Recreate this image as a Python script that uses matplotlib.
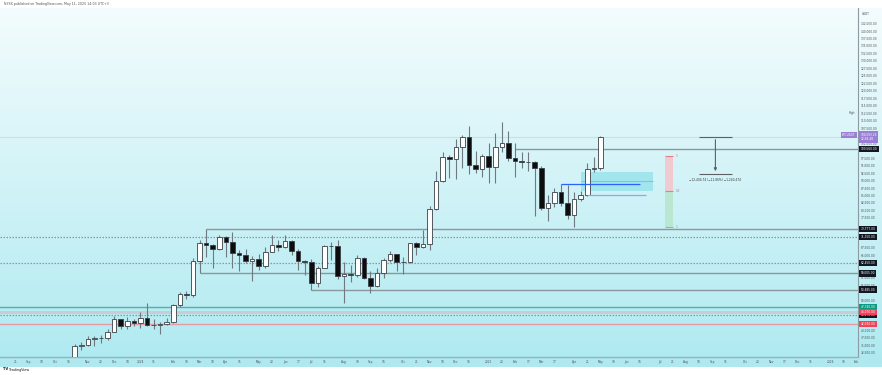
import matplotlib.pyplot as plt
import numpy as np
import pandas as pd
from matplotlib.patches import Rectangle

# weekly BTCUSDT candles, first bar = week of 2023-10-23
start = pd.Timestamp('2023-10-23')
opens = [29990, 34530, 35010, 37060, 37360, 37450, 39460, 43780, 41370, 42990,
         42280, 43950, 41730, 41580, 42030, 42580, 48300, 52140, 51730, 63110,
         68960, 68390, 67210, 71280, 69360, 65660, 64940, 63120, 63900, 61480,
         66270, 68510, 67760, 69650, 66490, 63210, 62680, 55850, 60800, 68250,
         68260, 58110, 58710, 58430, 64220, 57300, 54870, 59130, 63580, 65600,
         62820, 62850, 69000, 67940, 68740, 80400, 89850, 97900, 97190, 101110,
         104460, 95180, 93720, 98320, 94500, 101330, 102620, 97700, 96460, 96120,
         96260, 94270, 80730, 82580, 86080, 82390, 78370, 83760, 85170, 93750,
         94280]
highs = [35280, 35990, 38000, 37980, 38420, 40250, 44700, 43800, 44300, 43800,
         45900, 49050, 43580, 42840, 43880, 48590, 52820, 52990, 64000, 69990,
         73777, 68920, 71770, 71300, 72800, 66900, 67230, 64700, 65500, 67700,
         71950, 70000, 71950, 70200, 67200, 63370, 63780, 61300, 68350, 69400,
         70080, 62750, 61800, 65000, 64520, 59800, 60600, 64130, 66500, 65600,
         64480, 69000, 69500, 73620, 81500, 93270, 99600, 98700, 103900, 105250,
         108350, 99960, 99000, 102700, 106000, 109600, 106500, 102500, 99500, 99480,
         96500, 95000, 85300, 87470, 88770, 88500, 86100, 86500, 95750, 97900,
         104900]
lows = [29880, 33390, 34520, 34800, 35630, 36700, 39460, 40200, 40500, 41300,
        40750, 41500, 40280, 38550, 41800, 42250, 47700, 50520, 50900, 59005,
        64530, 60760, 66800, 64490, 60660, 59600, 62400, 56550, 60200, 60800,
        66000, 66600, 67600, 65080, 60000, 58400, 53485, 54250, 60600, 63450,
        57100, 49000, 56100, 57800, 57200, 52550, 54570, 57500, 62700, 59830,
        58900, 62450, 65060, 67450, 66800, 80200, 89380, 90790, 90500, 94150,
        92200, 92520, 91350, 89250, 89250, 99500, 96450, 91230, 94100, 93300,
        78250, 80000, 76600, 81200, 81570, 77150, 74500, 83000, 85000, 92800,
        93380]
closes = [34530, 35010, 37060, 37360, 37450, 39460, 43780, 41370, 42990, 42280,
          43950, 41730, 41580, 42030, 42580, 48300, 52140, 51730, 63110, 68960,
          68390, 67210, 71280, 69360, 65660, 64940, 63120, 63900, 61480, 66270,
          68510, 67760, 69650, 66490, 63210, 62680, 55850, 60800, 68250, 68260,
          58110, 58710, 58430, 64220, 57300, 54870, 59130, 63580, 65600, 62820,
          62850, 69000, 67940, 68740, 80400, 89850, 97900, 97190, 101110, 104460,
          95180, 93720, 98320, 94500, 101330, 102620, 97700, 96460, 96120, 96260,
          94270, 80730, 82580, 86080, 82390, 78370, 83760, 85170, 93750, 94280,
          104593.26]

tick_dates = ['2023-08-21', '2023-09-04', '2023-09-18', '2023-10-02', '2023-10-16',
              '2023-11-06', '2023-11-20', '2023-12-04', '2023-12-18', '2024-01-01',
              '2024-01-15', '2024-02-05', '2024-02-19', '2024-03-04', '2024-03-18',
              '2024-04-01', '2024-04-15', '2024-05-06', '2024-05-20', '2024-06-03',
              '2024-06-17', '2024-07-01', '2024-07-15', '2024-08-05', '2024-08-19',
              '2024-09-02', '2024-09-16', '2024-10-07', '2024-10-21', '2024-11-04',
              '2024-11-18', '2024-12-02', '2024-12-16', '2025-01-06', '2025-01-20',
              '2025-02-03', '2025-02-17', '2025-03-03', '2025-03-17', '2025-04-07',
              '2025-04-21', '2025-05-05', '2025-05-19', '2025-06-02', '2025-06-16',
              '2025-07-07', '2025-07-21', '2025-08-04', '2025-08-18', '2025-09-01',
              '2025-09-15', '2025-10-06', '2025-10-20', '2025-11-03', '2025-11-17',
              '2025-12-01', '2025-12-15', '2026-01-05', '2026-01-19', '2026-02-02']
tick_names = ['21', 'Sep', '18', 'Oct', '16', 'Nov', '20', 'Dec', '18', '2024',
              '15', 'Feb', '19', 'Mar', '18', 'Apr', '15', 'May', '20', 'Jun',
              '17', 'Jul', '15', 'Aug', '19', 'Sep', '16', 'Oct', '21', 'Nov',
              '18', 'Dec', '16', '2025', '20', 'Feb', '17', 'Mar', '17', 'Apr',
              '21', 'May', '19', 'Jun', '16', 'Jul', '21', 'Aug', '18', 'Sep',
              '15', 'Oct', '20', 'Nov', '17', 'Dec', '15', '2026', '19', 'Feb']

# horizontal rays starting at a candle
ray_prices = [100560, 73777, 59005, 53485]
ray_starts = ['2025-02-03', '2024-03-11', '2024-03-04', '2024-07-01']
# full width lines
dotted_prices = [71150, 62450, 45070]
teal_price = 47740
band_price = 46070
pink_price = 42060

# drawings on the right
blue_price, blue_from, blue_to = 88770, '2025-03-24', '2025-06-16'
lblue_price, lblue_from, lblue_to = 85170, '2025-04-21', '2025-06-23'
zone_top, zone_bot, zone_from, zone_to = 92870, 86520, '2025-04-14', '2025-06-30'
fib_top, fib_bot, fib_from, fib_to = 98200, 74500, '2025-07-14', '2025-07-21'
meas_top, meas_bot = 104593.26, 92188.52
meas_from, meas_to = '2025-08-18', '2025-09-22'
meas_text = '\u221212,404.74 (\u221211.86%) \u22121,240,474'

FS = 2.1  # the screenshot text is tiny


def wk(d):
    return (pd.Timestamp(d) - start).days / 7


def money(v):
    return '{:,.2f}'.format(v)


fig = plt.figure(figsize=(8.82, 3.75), dpi=100)
fig.patch.set_facecolor('white')

# gradient background behind the chart and price scale
bg = fig.add_axes([0, 18 / 375, 1, 349 / 375], zorder=0)
t = np.linspace(0, 1, 256)[:, None, None]
top = np.array([0.955, 0.988, 0.993])
bot = np.array([0.69, 0.918, 0.945])
grad = top + (bot - top) * t
bg.imshow(grad, aspect='auto', extent=[0, 1, 0, 1])
bg.axis('off')
fig.add_artist(Rectangle((0, 8 / 375), 1, 10 / 375, transform=fig.transFigure,
                         facecolor='#b0e8ef', edgecolor='none', zorder=0))

ax = fig.add_axes([0, 18 / 375, 858 / 882, 349 / 375], zorder=1)
ax.set_facecolor('none')
ax.set_xlim(-11.37, 119.2)
ax.set_ylim(31000, 147700)

x = np.arange(len(closes))
o = np.array(opens)
c = np.array(closes)
up = c >= o
ax.vlines(x, lows, highs, color='#6f7a80', lw=0.8, zorder=3)
ax.bar(x, np.abs(c - o), bottom=np.minimum(o, c), width=0.7,
       color=np.where(up, 'white', '#0d0d0d'), edgecolor='#3a3f45', lw=0.6, zorder=4)

# levels
for p, s in zip(ray_prices, ray_starts):
    ax.hlines(p, wk(s), 119.2, color='#8c979c', lw=1.0, zorder=2)
for p in dotted_prices:
    ax.axhline(p, color='#8c979c', lw=0.9, ls=(0, (1.2, 1.2)), zorder=2)
ax.axhline(teal_price, color='#4fb3a9', lw=1.0, zorder=2)
ax.axhline(band_price, color='#c9ccd3', lw=2.0, zorder=2)
ax.axhline(pink_price, color='#e79aa6', lw=1.0, zorder=2)
ax.axhline(closes[-1], color='#d6d6ec', lw=0.8, zorder=2)

# right-side drawings
ax.add_patch(Rectangle((wk(zone_from), zone_bot), wk(zone_to) - wk(zone_from),
                       zone_top - zone_bot, facecolor='#8fe0ea', alpha=0.7,
                       edgecolor='none', zorder=2))
ax.hlines((zone_top + zone_bot) / 2, wk(zone_from), wk(zone_to), color='#7cc9d5',
          lw=0.8, zorder=2)
ax.hlines(blue_price, wk(blue_from), wk(blue_to), color='#2962ff', lw=0.9, zorder=5)
ax.hlines(lblue_price, wk(lblue_from), wk(lblue_to), color='#8fa8f5', lw=0.9, zorder=5)

fmid = (fib_top + fib_bot) / 2
fx0, fx1 = wk(fib_from) - 0.1, wk(fib_to) + 0.05
ax.add_patch(Rectangle((fx0, fmid), fx1 - fx0, fib_top - fmid, facecolor='#f3c6cc',
                       edgecolor='none', alpha=0.9, zorder=2))
ax.add_patch(Rectangle((fx0, fib_bot), fx1 - fx0, fmid - fib_bot, facecolor='#b7e6cf',
                       edgecolor='none', alpha=0.9, zorder=2))
ax.hlines([fib_top, fmid], fx0, fx1, color='#e57f8d', lw=0.8, zorder=3)
ax.hlines(fib_bot, fx0, fx1, color='#79c79d', lw=0.8, zorder=3)
ax.text(fx1 + 0.4, fib_top, '0', fontsize=FS, color='#e57f8d', va='center')
ax.text(fx1 + 0.4, fmid, '0.5', fontsize=FS, color='#c07a80', va='center')
ax.text(fx1 + 0.4, fib_bot, '1', fontsize=FS, color='#4caf78', va='center')

mx0, mx1 = wk(meas_from), wk(meas_to)
mxc = (mx0 + mx1) / 2
ax.hlines([meas_top, meas_bot], mx0, mx1, color='#5d6166', lw=0.8, zorder=5)
ax.annotate('', xy=(mxc, meas_bot), xytext=(mxc, meas_top),
            arrowprops=dict(arrowstyle='-|>', color='#5d6166', lw=0.8, mutation_scale=4),
            zorder=5)
ax.annotate(meas_text, (mxc, meas_bot), xytext=(0, -3), textcoords='offset points',
            ha='center', va='top', fontsize=FS, color='#333')

# price scale
specials = ([(closes[-1], '#9b7fd4')] + [(p, '#131722') for p in ray_prices]
            + [(p, '#131722') for p in dotted_prices]
            + [(teal_price, '#0c9a83'), (band_price, '#f0435a'), (pink_price, '#f0435a')])
ticks = [v for v in np.arange(32500, 142501, 2500)
         if min(abs(v - p) for p, _ in specials) > 1500]
ax.yaxis.tick_right()
ax.set_yticks(ticks, [money(v) for v in ticks])
ax.tick_params(axis='y', length=0, pad=2.0, labelsize=FS, labelcolor='#4a4f55')
ax.set_xticks([wk(d) for d in tick_dates], tick_names)
ax.tick_params(axis='x', length=0, pad=2.4, labelsize=FS, labelcolor='#4a4f55')
for s in ['top', 'left']:
    ax.spines[s].set_visible(False)
ax.spines['right'].set_color('#8a9ca2')
ax.spines['bottom'].set_color('#8fb5bd')
ax.spines['right'].set_linewidth(0.8)
ax.spines['bottom'].set_linewidth(1.0)

tr = ax.get_yaxis_transform()
for p, col in specials[1:]:
    ax.text(1.003, p, money(p), transform=tr, fontsize=FS, color='white', va='center',
            ha='left', zorder=10, clip_on=False,
            bbox=dict(boxstyle='square,pad=0.45', facecolor=col, edgecolor='none'))
ax.text(1.003, closes[-1], money(closes[-1]) + '\n12:56:48', transform=tr, fontsize=FS,
        color='white', va='center', ha='left', zorder=10, clip_on=False, linespacing=1.2,
        bbox=dict(boxstyle='square,pad=0.45', facecolor='#9b7fd4', edgecolor='none'))
ax.text(0.997, closes[-1] + 700, 'BTCUSDT', transform=tr, fontsize=FS, color='white',
        va='center', ha='right', zorder=10, clip_on=False,
        bbox=dict(boxstyle='square,pad=0.45', facecolor='#9b7fd4', edgecolor='none'))
ax.text(0.997, 112500, 'High', transform=tr, fontsize=FS, color='#4a4f55',
        va='center', ha='right', zorder=10, clip_on=False)

fig.text(862 / 882, 1 - 14 / 375, 'USDT', fontsize=FS, color='#4a4f55', va='center')
fig.text(4 / 882, 1 - 4.5 / 375, 'NYSX published on TradingView.com, May 11, 2025 14:03 UTC+3',
         fontsize=2.3, color='#555', va='center')
fig.text(3 / 882, 1 - 369.5 / 375, 'TV', fontsize=2.6, color='#131722', va='center',
         weight='bold')
fig.text(9 / 882, 1 - 369.5 / 375, 'TradingView', fontsize=2.4, color='#131722',
         va='center')

fig.savefig('out.png', dpi=100)
